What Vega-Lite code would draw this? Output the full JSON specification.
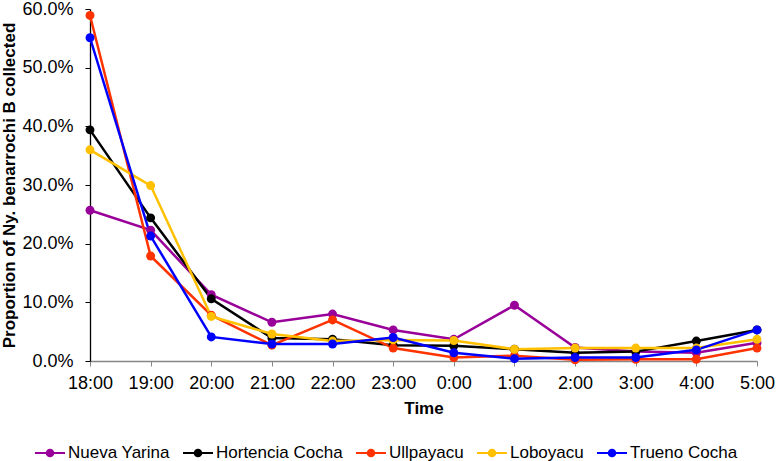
{
  "$schema": "https://vega.github.io/schema/vega-lite/v6.json",
  "width": 667,
  "height": 352,
  "autosize": {"type": "none"},
  "padding": {"left": 90, "top": 9, "right": 19, "bottom": 100},
  "background": "white",
  "config": {
    "view": {"stroke": null},
    "font": "Liberation Sans",
    "axis": {"grid": false, "labelFont": "Liberation Sans", "titleFont": "Liberation Sans", "labelColor": "black", "titleColor": "black"},
    "legend": {"labelFont": "Liberation Sans"}
  },
  "data": {
    "values": [
      {"time": "18:00", "site": "Nueva Yarina", "p": 0.257},
      {"time": "19:00", "site": "Nueva Yarina", "p": 0.223},
      {"time": "20:00", "site": "Nueva Yarina", "p": 0.113},
      {"time": "21:00", "site": "Nueva Yarina", "p": 0.066},
      {"time": "22:00", "site": "Nueva Yarina", "p": 0.080},
      {"time": "23:00", "site": "Nueva Yarina", "p": 0.053},
      {"time": "0:00", "site": "Nueva Yarina", "p": 0.037},
      {"time": "1:00", "site": "Nueva Yarina", "p": 0.095},
      {"time": "2:00", "site": "Nueva Yarina", "p": 0.023},
      {"time": "3:00", "site": "Nueva Yarina", "p": 0.016},
      {"time": "4:00", "site": "Nueva Yarina", "p": 0.014},
      {"time": "5:00", "site": "Nueva Yarina", "p": 0.031},
      {"time": "18:00", "site": "Hortencia Cocha", "p": 0.394},
      {"time": "19:00", "site": "Hortencia Cocha", "p": 0.244},
      {"time": "20:00", "site": "Hortencia Cocha", "p": 0.106},
      {"time": "21:00", "site": "Hortencia Cocha", "p": 0.039},
      {"time": "22:00", "site": "Hortencia Cocha", "p": 0.037},
      {"time": "23:00", "site": "Hortencia Cocha", "p": 0.027},
      {"time": "0:00", "site": "Hortencia Cocha", "p": 0.026},
      {"time": "1:00", "site": "Hortencia Cocha", "p": 0.020},
      {"time": "2:00", "site": "Hortencia Cocha", "p": 0.014},
      {"time": "3:00", "site": "Hortencia Cocha", "p": 0.016},
      {"time": "4:00", "site": "Hortencia Cocha", "p": 0.034},
      {"time": "5:00", "site": "Hortencia Cocha", "p": 0.053},
      {"time": "18:00", "site": "Ullpayacu", "p": 0.589},
      {"time": "19:00", "site": "Ullpayacu", "p": 0.179},
      {"time": "20:00", "site": "Ullpayacu", "p": 0.078},
      {"time": "21:00", "site": "Ullpayacu", "p": 0.027},
      {"time": "22:00", "site": "Ullpayacu", "p": 0.070},
      {"time": "23:00", "site": "Ullpayacu", "p": 0.022},
      {"time": "0:00", "site": "Ullpayacu", "p": 0.006},
      {"time": "1:00", "site": "Ullpayacu", "p": 0.009},
      {"time": "2:00", "site": "Ullpayacu", "p": 0.002},
      {"time": "3:00", "site": "Ullpayacu", "p": 0.003},
      {"time": "4:00", "site": "Ullpayacu", "p": 0.003},
      {"time": "5:00", "site": "Ullpayacu", "p": 0.022},
      {"time": "18:00", "site": "Loboyacu", "p": 0.360},
      {"time": "19:00", "site": "Loboyacu", "p": 0.299},
      {"time": "20:00", "site": "Loboyacu", "p": 0.076},
      {"time": "21:00", "site": "Loboyacu", "p": 0.046},
      {"time": "22:00", "site": "Loboyacu", "p": 0.034},
      {"time": "23:00", "site": "Loboyacu", "p": 0.036},
      {"time": "0:00", "site": "Loboyacu", "p": 0.035},
      {"time": "1:00", "site": "Loboyacu", "p": 0.020},
      {"time": "2:00", "site": "Loboyacu", "p": 0.022},
      {"time": "3:00", "site": "Loboyacu", "p": 0.022},
      {"time": "4:00", "site": "Loboyacu", "p": 0.022},
      {"time": "5:00", "site": "Loboyacu", "p": 0.037},
      {"time": "18:00", "site": "Trueno Cocha", "p": 0.551},
      {"time": "19:00", "site": "Trueno Cocha", "p": 0.213},
      {"time": "20:00", "site": "Trueno Cocha", "p": 0.041},
      {"time": "21:00", "site": "Trueno Cocha", "p": 0.029},
      {"time": "22:00", "site": "Trueno Cocha", "p": 0.029},
      {"time": "23:00", "site": "Trueno Cocha", "p": 0.040},
      {"time": "0:00", "site": "Trueno Cocha", "p": 0.014},
      {"time": "1:00", "site": "Trueno Cocha", "p": 0.004},
      {"time": "2:00", "site": "Trueno Cocha", "p": 0.006},
      {"time": "3:00", "site": "Trueno Cocha", "p": 0.006},
      {"time": "4:00", "site": "Trueno Cocha", "p": 0.019},
      {"time": "5:00", "site": "Trueno Cocha", "p": 0.053}
    ]
  },
  "mark": {"type": "line", "strokeWidth": 2.5, "point": {"filled": true, "size": 80, "opacity": 1}},
  "encoding": {
    "x": {
      "field": "time", "type": "ordinal",
      "sort": ["18:00","19:00","20:00","21:00","22:00","23:00","0:00","1:00","2:00","3:00","4:00","5:00"],
      "scale": {"type": "point", "padding": 0},
      "axis": {
        "title": "Time", "titleFontSize": 17, "titleFontWeight": "bold", "titlePadding": 8,
        "labelAngle": 0, "labelFontSize": 18, "labelPadding": 8,
        "domainColor": "#868686", "tickColor": "#868686", "tickSize": 5, "domainWidth": 1.3
      }
    },
    "y": {
      "field": "p", "type": "quantitative",
      "scale": {"domain": [0, 0.6], "nice": false},
      "axis": {
        "title": "Proportion of Ny. benarrochi B collected", "titleFontSize": 17, "titleFontWeight": "bold", "titlePadding": 3,
        "format": ".1%", "values": [0, 0.1, 0.2, 0.3, 0.4, 0.5, 0.6],
        "labelFontSize": 18, "labelPadding": 12,
        "domainColor": "black", "tickColor": "black", "tickSize": 5, "domainWidth": 1.3
      }
    },
    "color": {
      "field": "site", "type": "nominal",
      "scale": {
        "domain": ["Nueva Yarina", "Hortencia Cocha", "Ullpayacu", "Loboyacu", "Trueno Cocha"],
        "range": ["#990099", "#000000", "#FF3300", "#FFC000", "#0000FF"]
      },
      "legend": {
        "title": null, "orient": "none", "direction": "horizontal", "columns": 5,
        "legendX": -56, "legendY": 428,
        "labelFontSize": 17, "labelColor": "black", "labelOffset": 2,
        "columnPadding": 9,
        "symbolType": "M-1,0H1M0.22,0A0.22,0.22 0 1,1 -0.22,0A0.22,0.22 0 1,1 0.22,0Z",
        "symbolSize": 900, "symbolStrokeWidth": 2,
        "encode": {"symbols": {"update": {"fill": {"scale": "color", "field": "value"}, "fillOpacity": {"value": 1}}}}
      }
    }
  }
}
